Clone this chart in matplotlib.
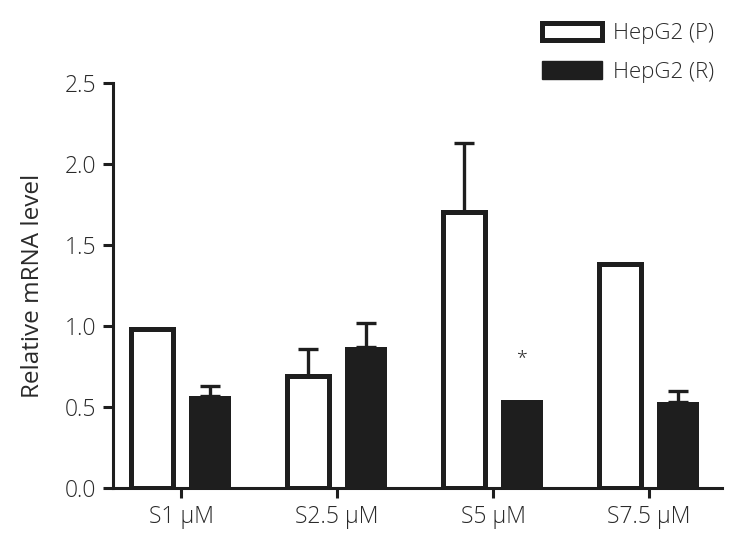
import numpy as np
import matplotlib
matplotlib.use("Agg")
import matplotlib.pyplot as plt
from matplotlib.patches import Patch

plt.rcParams['font.family'] = ['Open Sans', 'DejaVu Sans']
plt.rcParams['font.weight'] = 'light'

# data
categories = ['S1 μM', 'S2.5 μM', 'S5 μM', 'S7.5 μM']
hepg2_p = [0.98, 0.69, 1.70, 1.38]
hepg2_p_err = [0.0, 0.17, 0.43, 0.0]
hepg2_r = [0.57, 0.87, 0.54, 0.53]
hepg2_r_err = [0.06, 0.15, 0.0, 0.07]
star_y = 0.80

textColor = '#2a2a2a'
lineColor = '#1e1e1e'

fig = plt.figure(figsize=(7.46, 5.52), dpi=100)
ax = fig.add_axes([0.151, 0.116, 0.817, 0.734])

x = np.arange(len(categories))
width = 0.27
off = 0.185

ax.bar(x - off, hepg2_p, width, color='white', edgecolor=lineColor, linewidth=3.6, zorder=3)
ax.bar(x + off, hepg2_r, width, color=lineColor, edgecolor=lineColor, linewidth=0, zorder=3)

# upward error bars only
for i in range(len(categories)):
    if hepg2_p_err[i] > 0:
        ax.errorbar(x[i] - off, hepg2_p[i], yerr=[[0], [hepg2_p_err[i]]], fmt='none',
                    ecolor=lineColor, elinewidth=2.4, capsize=7, capthick=2.4, zorder=2)
    if hepg2_r_err[i] > 0:
        ax.errorbar(x[i] + off, hepg2_r[i], yerr=[[0], [hepg2_r_err[i]]], fmt='none',
                    ecolor=lineColor, elinewidth=2.4, capsize=7, capthick=2.4, zorder=2)

ax.text(x[2] + off, star_y, '*', ha='center', va='center', fontsize=14, color=textColor)

ax.set_xlim(-0.44, 3.47)
ax.set_ylim(0, 2.5)
ax.set_yticks([0, 0.5, 1.0, 1.5, 2.0, 2.5])
ax.set_yticklabels(['0.0', '0.5', '1.0', '1.5', '2.0', '2.5'])
ax.set_xticks(x)
ax.set_xticklabels(categories)

for s in ['top', 'right']:
    ax.spines[s].set_visible(False)
for s in ['left', 'bottom']:
    ax.spines[s].set_linewidth(2.2)
    ax.spines[s].set_color(lineColor)

ax.tick_params(axis='both', length=7, width=2.2, color=lineColor, labelsize=16.5,
               labelcolor=textColor, pad=5)
ax.set_ylabel('Relative mRNA level', fontsize=17.5, color=textColor, labelpad=14)

handles = [Patch(facecolor='white', edgecolor=lineColor, linewidth=3.6),
           Patch(facecolor=lineColor, edgecolor=lineColor)]
fig.legend(handles, ['HepG2 (P)', 'HepG2 (R)'], loc='upper left', bbox_to_anchor=(0.70, 0.995),
           frameon=False, fontsize=16, labelcolor=textColor, handlelength=2.7, handleheight=0.85,
           labelspacing=0.75, handletextpad=0.5)

fig.savefig('out.png', dpi=100)
